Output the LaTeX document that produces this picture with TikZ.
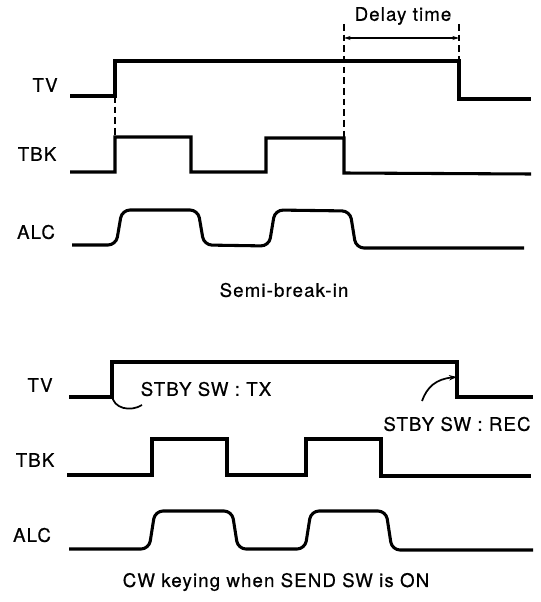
\documentclass[tikz,border=0pt]{standalone}
\usepackage{fontspec}
\setmainfont{TeX Gyre Heros}
\newfontfamily\sigfont{TeX Gyre Heros}[FakeBold=0.6,LetterSpace=6]
\usepackage{tikz}
\usetikzlibrary{arrows.meta}

\begin{document}
\begin{tikzpicture}[x=0.75pt,y=0.75pt,yscale=-1,xscale=1,
  wave/.style={line width=2.3pt, line join=miter},
  slope/.style={wave, rounded corners=6pt},
  guide/.style={line width=1.3pt, dash pattern=on 5pt off 3pt},
  lbl/.style={inner sep=0.75pt, font=\sigfont\fontsize{14}{17}\selectfont}]
\useasboundingbox (0,0) rectangle (540,602);

%Straight Lines : TV (semi-break-in)
\draw [wave] (70,96) -- (115,96) -- (115,61) -- (459,61) -- (459,99) -- (531,99) ;
%Straight Lines : TBK (semi-break-in)
\draw [wave] (70,172) -- (115,172) -- (115,137) -- (191,137) -- (191,172) -- (266,172) -- (266,138) -- (344,138) -- (344,173) -- (531,174) ;
%Straight Lines : ALC (semi-break-in)
\draw [slope] (72,245) -- (116,245) -- (122,210) -- (198,210) -- (204,245) -- (269,246) -- (275,210) -- (350,211) -- (356,248) -- (524,248) ;

%Dashed Lines
\draw [guide] (115,96) -- (115,137) ;
\draw [guide] (344,24) -- (344,138) ;
\draw [guide] (459,24) -- (459,61) ;
%Delay arrow
\draw [line width=0.9pt, {Stealth[length=5pt,width=3pt]}-{Stealth[length=5pt,width=3pt]}] (344,38) -- (459,38) ;

%Straight Lines : TV (CW keying)
\draw [wave] (69,397) -- (112,397) -- (112,362) -- (457,362) -- (457,397) -- (533,397) ;
%Straight Lines : TBK (CW keying)
\draw [wave] (67,475) -- (152,475) -- (152,439) -- (227,439) -- (227,475) -- (306,475) -- (306,439) -- (381,439) -- (381,476) -- (531,476) ;
%Straight Lines : ALC (CW keying)
\draw [slope] (69,549) -- (149,549) -- (155,511) -- (232,511) -- (238,549) -- (305,549) -- (311,511) -- (386,511) -- (392,550) -- (533,550) ;

%Curve Lines : switch notes
\draw [line width=1.3pt] (112,395) .. controls (113,409) and (131,412) .. (142,405) ;
\draw [line width=1.3pt, -{Stealth[length=6pt,width=4pt]}] (422,401) .. controls (427,387) and (436,379) .. (457,377) ;

% Text Node
\draw (45,85) node [lbl] (tvA) {TV};
% Text Node
\draw (37,154) node [lbl] (tbkA) {TBK};
% Text Node
\draw (36,232) node [lbl] (alcA) {ALC};
% Text Node
\draw (403,16) node [lbl] (delay) {Delay time};
% Text Node
\draw (284,290) node [lbl] (semi) {Semi-break-in};
% Text Node
\draw (40,385) node [lbl] (tvB) {TV};
% Text Node
\draw (35,460) node [lbl] (tbkB) {TBK};
% Text Node
\draw (32,535) node [lbl] (alcB) {ALC};
% Text Node
\draw (206,389) node [lbl] (stbytx) {STBY SW : TX};
% Text Node
\draw (457,424) node [lbl] (stbyrec) {STBY SW : REC};
% Text Node
\draw (276,582) node [lbl] (cw) {CW keying when SEND SW is ON};

\end{tikzpicture}
\end{document}
